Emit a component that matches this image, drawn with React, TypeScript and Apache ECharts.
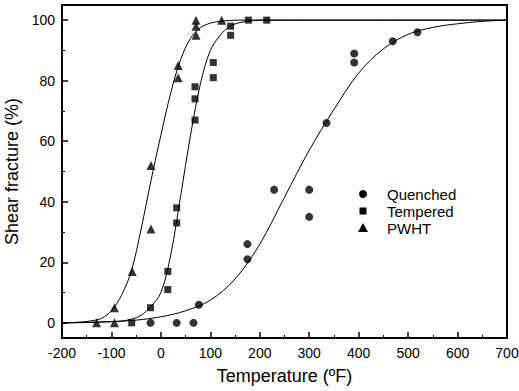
import React, { useEffect, useRef } from "react";
import * as echarts from "echarts";

// Measured points
const quenchedTemp = [-21, 32, 66, 77, 175, 175, 229, 300, 300, 335, 391, 391, 469, 519];
const quenchedShear = [0, 0, 0, 6, 21, 26, 44, 44, 35, 66, 86, 89, 93, 96];

const temperedTemp = [-59, -21, 14, 14, 32, 32, 69, 69, 69, 106, 106, 141, 141, 177, 214];
const temperedShear = [0, 5, 11, 17, 33, 38, 67, 74, 78, 81, 86, 95, 98, 100, 100];

const pwhtTemp = [-130, -94, -94, -58, -20, -20, 35, 35, 71, 71, 71, 123];
const pwhtShear = [0, 0, 5, 17, 31, 52, 81, 85, 95, 98, 100, 100];

// Fitted curves
const quenchedCurveT = [-200, -150, -100, -50, 0, 50, 100, 150, 200, 250, 300, 350, 400, 450, 500, 550, 600, 650, 700];
const quenchedCurveY = [0, 0.2, 0.4, 0.9, 2, 4, 7.5, 14.5, 26, 41.5, 57, 70.5, 82.5, 90.5, 95.3, 97.6, 98.8, 99.6, 100];

const temperedCurveT = [-200, -150, -100, -80, -60, -40, -20, 0, 20, 40, 60, 80, 100, 120, 140, 160, 180, 200, 300, 400, 500, 600, 700];
const temperedCurveY = [0, 0.1, 0.4, 0.6, 1.2, 2.5, 5.5, 10, 22.5, 42, 62, 79, 90, 95, 98, 99.2, 99.7, 100, 100, 100, 100, 100, 100];

const pwhtCurveT = [-200, -180, -160, -140, -120, -100, -80, -60, -40, -20, 0, 20, 40, 60, 80, 100, 120, 140, 160, 200, 300, 400, 500, 600, 700];
const pwhtCurveY = [0, 0.1, 0.3, 0.7, 1.5, 4, 9, 17, 31, 47, 62, 76, 87, 94, 97.5, 99, 99.6, 99.9, 100, 100, 100, 100, 100, 100, 100];

const yMajorTicks = [0, 20, 40, 60, 80, 100];
const yMinorTicks = [10, 30, 50, 70, 90];

const legendNames = ["Quenched", "Tempered", "PWHT"];

const zip = (a: number[], b: number[]) => a.map((v, i) => [v, b[i]]);

const FONT = "'Liberation Sans', Arial, sans-serif";

export default function App() {
  const ref = useRef<HTMLDivElement>(null);
  useEffect(() => {
    if (!ref.current) return;
    const chart = echarts.init(ref.current, null, { renderer: "svg" });
    const curve = (name: string, t: number[], y: number[]) => ({
      name,
      type: "line",
      data: zip(t, y),
      smooth: 0.35,
      showSymbol: false,
      symbol: "none",
      lineStyle: { color: "#000", width: 1 },
      z: 2,
      silent: true,
    });
    const pts = (name: string, symbol: string, size: number, t: number[], y: number[]) => ({
      name,
      type: "scatter",
      symbol,
      symbolSize: size,
      data: zip(t, y),
      itemStyle: { color: "#000" },
      z: 3,
    });
    const lx = 363;
    const ly = [194, 211, 228];
    chart.setOption({
      animation: false,
      backgroundColor: "#fff",
      textStyle: { fontFamily: FONT },
      grid: {
        left: 62,
        right: 12,
        top: 5,
        bottom: 53,
        containLabel: false,
        outerBoundsMode: "none",
        show: true,
        borderColor: "#000",
        borderWidth: 2,
      },
      graphic: [
        { type: "circle", shape: { cx: lx, cy: ly[0], r: 4 }, style: { fill: "#000" } },
        { type: "rect", shape: { x: lx - 3.5, y: ly[1] - 3.5, width: 7, height: 7 }, style: { fill: "#000" } },
        {
          type: "polygon",
          shape: { points: [[lx, ly[2] - 5], [lx - 5, ly[2] + 4], [lx + 5, ly[2] + 4]] },
          style: { fill: "#000" },
        },
        ...legendNames.map((n, i) => ({
          type: "text",
          x: 387,
          y: ly[i],
          style: { text: n, fontSize: 15, fontFamily: FONT, fill: "#000", verticalAlign: "middle", align: "left" },
        })),
      ],
      xAxis: {
        type: "value",
        min: -200,
        max: 700,
        interval: 100,
        name: "Temperature (ºF)",
        nameLocation: "middle",
        nameGap: 29,
        nameTextStyle: { fontSize: 18, color: "#000", fontFamily: FONT },
        axisLine: { onZero: false, lineStyle: { color: "#000", width: 2 } },
        axisTick: { inside: true, length: 6, lineStyle: { color: "#000", width: 1.5 } },
        minorTick: { show: true, splitNumber: 2, length: 3, lineStyle: { color: "#000", width: 1 } },
        axisLabel: { fontSize: 14, color: "#000", margin: 8, fontFamily: FONT },
        splitLine: { show: false },
      },
      yAxis: [
        {
          type: "value",
          min: -5,
          max: 105,
          name: "Shear fracture (%)",
          nameLocation: "middle",
          nameGap: 40,
          nameTextStyle: { fontSize: 18, color: "#000", fontFamily: FONT },
          axisLine: { onZero: false, lineStyle: { color: "#000", width: 2 } },
          axisTick: { inside: true, length: 6, customValues: yMajorTicks, lineStyle: { color: "#000", width: 1.5 } },
          axisLabel: { fontSize: 14, color: "#000", margin: 7, customValues: yMajorTicks, fontFamily: FONT },
          splitLine: { show: false },
        },
        {
          type: "value",
          min: -5,
          max: 105,
          position: "left",
          offset: 0,
          axisLine: { show: false, onZero: false },
          axisTick: { inside: true, length: 3, customValues: yMinorTicks, lineStyle: { color: "#000", width: 1 } },
          axisLabel: { show: false },
          splitLine: { show: false },
        },
      ],
      series: [
        curve("qc", quenchedCurveT, quenchedCurveY),
        curve("tc", temperedCurveT, temperedCurveY),
        curve("pc", pwhtCurveT, pwhtCurveY),
        pts(legendNames[0], "circle", 8, quenchedTemp, quenchedShear),
        pts(legendNames[1], "rect", 7, temperedTemp, temperedShear),
        pts(legendNames[2], "triangle", 9, pwhtTemp, pwhtShear),
      ],
    });
    return () => chart.dispose();
  }, []);
  return <div ref={ref} style={{ width: 519, height: 391, position: "absolute", left: 0, top: 0 }} />;
}
